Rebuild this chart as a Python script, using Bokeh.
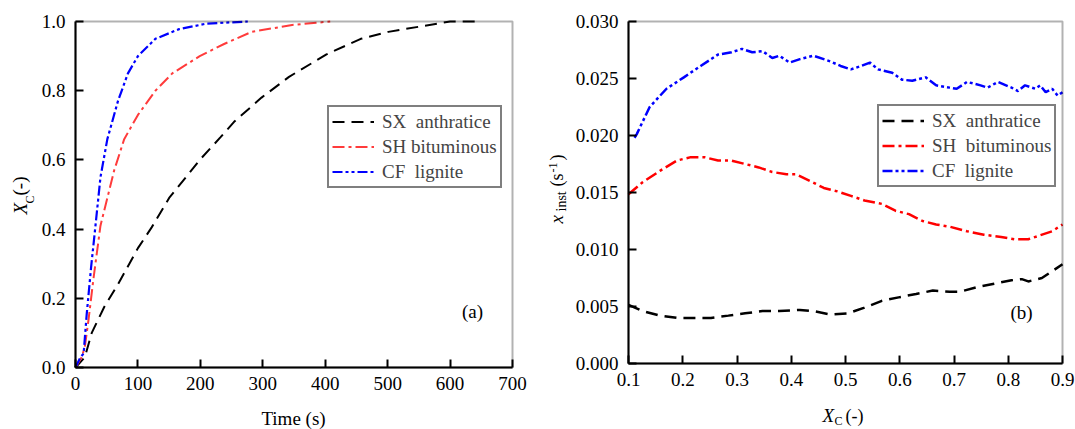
import math
from bokeh.plotting import figure
from bokeh.layouts import row
from bokeh.models import Range1d, FixedTicker, NumeralTickFormatter, Label, BoxAnnotation
from bokeh.embed import file_html
from bokeh.resources import INLINE

# ---- panel (a): carbon conversion vs time ----
sx_time = [0, 10, 15, 26, 46, 68, 100, 122, 150, 177, 199, 232, 254, 298, 342, 402, 457, 501, 567, 600, 640]
sx_xc = [0.0, 0.02, 0.03, 0.10, 0.175, 0.24, 0.345, 0.405, 0.49, 0.55, 0.60, 0.665, 0.71, 0.78, 0.84, 0.905, 0.95, 0.97, 0.99, 1.0, 1.0]

sh_time = [0, 10, 15, 21, 29, 40, 51, 62, 78, 100, 128, 155, 199, 238, 282, 347, 408]
sh_xc = [0.0, 0.03, 0.06, 0.14, 0.26, 0.41, 0.49, 0.57, 0.66, 0.73, 0.80, 0.85, 0.90, 0.935, 0.97, 0.99, 1.0]

cf_time = [0, 8, 13, 18, 25, 32, 40, 51, 68, 84, 100, 128, 166, 210, 276]
cf_xc = [0.0, 0.03, 0.04, 0.155, 0.29, 0.41, 0.55, 0.66, 0.77, 0.85, 0.90, 0.95, 0.978, 0.994, 1.0]

# ---- panel (b): instantaneous rate vs conversion ----
sx_b_xc = [0.100, 0.126, 0.158, 0.189, 0.221, 0.252, 0.284, 0.315, 0.347, 0.378, 0.416, 0.441, 0.472, 0.504, 0.535,
           0.567, 0.598, 0.630, 0.661, 0.692, 0.711, 0.743, 0.774, 0.806, 0.825, 0.837, 0.862, 0.881, 0.900]
sx_b_rate = [0.00515, 0.0046, 0.0042, 0.0040, 0.0040, 0.0040, 0.0042, 0.0044, 0.0046, 0.0046, 0.0047, 0.0046, 0.0043,
             0.0044, 0.0049, 0.0055, 0.0058, 0.0061, 0.0064, 0.0063, 0.0063, 0.0067, 0.0070, 0.0073, 0.0074, 0.0072,
             0.0075, 0.0081, 0.0087]

sh_b_xc = [0.100, 0.126, 0.158, 0.189, 0.215, 0.240, 0.265, 0.290, 0.315, 0.340, 0.365, 0.391, 0.409, 0.435, 0.460,
           0.485, 0.510, 0.535, 0.567, 0.592, 0.617, 0.642, 0.667, 0.692, 0.724, 0.755, 0.787, 0.812, 0.837, 0.856,
           0.881, 0.900]
sh_b_rate = [0.01485, 0.0159, 0.0169, 0.0178, 0.0181, 0.0181, 0.0178, 0.0178, 0.0175, 0.0172, 0.0168, 0.0166, 0.0166,
             0.0160, 0.0154, 0.0151, 0.0147, 0.0143, 0.0140, 0.0134, 0.0131, 0.0125, 0.0122, 0.0120, 0.0116, 0.0113,
             0.0111, 0.0109, 0.0109, 0.0112, 0.0116, 0.0122]

cf_b_xc = [0.111, 0.115, 0.139, 0.170, 0.202, 0.233, 0.265, 0.290, 0.309, 0.328, 0.347, 0.365, 0.378, 0.397, 0.416,
           0.441, 0.472, 0.491, 0.510, 0.529, 0.545, 0.560, 0.586, 0.604, 0.623, 0.648, 0.667, 0.692, 0.705, 0.724,
           0.749, 0.762, 0.781, 0.806, 0.818, 0.831, 0.850, 0.859, 0.869, 0.881, 0.891, 0.900]
cf_b_rate = [0.0198, 0.0201, 0.0225, 0.0241, 0.0251, 0.0261, 0.0271, 0.0273, 0.0276, 0.0273, 0.0274, 0.0268, 0.0270,
             0.0264, 0.0267, 0.0270, 0.0265, 0.0261, 0.0258, 0.0261, 0.0264, 0.0258, 0.0255, 0.0249, 0.0248, 0.0251,
             0.0244, 0.0242, 0.0241, 0.0247, 0.0244, 0.0242, 0.0247, 0.0242, 0.0239, 0.0244, 0.0241, 0.0244, 0.0238,
             0.0241, 0.0235, 0.0238]

series_names = ["SX  anthratice", "SH bituminous", "CF  lignite"]
series_names_b = ["SX  anthratice", "SH  bituminous", "CF  lignite"]

a_xticks = [0, 100, 200, 300, 400, 500, 600, 700]
a_yticks = [0.0, 0.2, 0.4, 0.6, 0.8, 1.0]
b_xticks = [0.1, 0.2, 0.3, 0.4, 0.5, 0.6, 0.7, 0.8, 0.9]
b_yticks = [0.000, 0.005, 0.010, 0.015, 0.020, 0.025, 0.030]

FONT = "Liberation Serif"
DASH_BLACK = "12 7"
DASH_RED = "12 4 3 4"
DASH_BLUE = "10 3 3 3 3 3"
H = 429


def make_panel(width, box_px, xticks, yticks, xfmt, yfmt):
    """Figure whose frame fills the canvas; the plotting box sits at box_px
    (left, right, top, bottom in canvas pixels) and the axes are pinned to it."""
    left, right, top, bottom = box_px
    x0, x1 = xticks[0], xticks[-1]
    y0, y1 = yticks[0], yticks[-1]
    kx = (x1 - x0) / (right - left)
    ky = (y1 - y0) / (bottom - top)
    p = figure(width=width, height=H, output_backend="svg", toolbar_location=None,
               x_range=Range1d(x0 - left * kx, x1 + (width - right) * kx),
               y_range=Range1d(y0 - (H - bottom) * ky, y1 + top * ky),
               min_border=0)
    p.xaxis.fixed_location = y0
    p.yaxis.fixed_location = x0
    p.xaxis.bounds = (x0, x1)
    p.yaxis.bounds = (y0, y1)
    p.xaxis.ticker = FixedTicker(ticks=xticks)
    p.yaxis.ticker = FixedTicker(ticks=yticks)
    p.xaxis.formatter = NumeralTickFormatter(format=xfmt)
    p.yaxis.formatter = NumeralTickFormatter(format=yfmt)
    for ax in (p.xaxis, p.yaxis):
        ax.axis_line_width = 2
        ax.axis_line_color = "black"
        ax.major_tick_in = 8
        ax.major_tick_out = 0
        ax.major_tick_line_width = 2
        ax.major_tick_line_color = "black"
        ax.minor_tick_line_color = None
        ax.major_label_text_font = FONT
        ax.major_label_text_font_size = "19px"
        ax.major_label_text_color = "black"
    p.xaxis.major_label_standoff = 9
    p.yaxis.major_label_standoff = 10
    p.xgrid.visible = False
    p.ygrid.visible = False
    p.outline_line_color = None
    p.add_layout(BoxAnnotation(left=x0, right=x1, bottom=y0, top=y1, fill_alpha=0,
                               line_color="black", line_width=2))
    return p


def style_legend(p, loc):
    lg = p.legend[0]
    lg.location = loc
    lg.border_line_color = "black"
    lg.border_line_width = 2
    lg.background_fill_alpha = 1
    lg.label_text_font = FONT
    lg.label_text_font_size = "19px"
    lg.glyph_width = 42
    lg.glyph_height = 23
    lg.label_height = 23
    lg.spacing = 2
    lg.padding = 3
    lg.label_standoff = 8
    lg.margin = 0


def piece(p, cx, cy, text, size="18px", italic=False, vertical=False, align="left"):
    # cx, cy: canvas pixel position (from top-left of this panel)
    p.add_layout(Label(x=cx, y=H - cy, x_units="screen", y_units="screen", text=text,
                       text_font=FONT, text_font_size=size,
                       text_font_style="italic" if italic else "normal",
                       text_align=align, text_baseline="middle",
                       angle=math.pi / 2 if vertical else 0.0,
                       text_color="black"))


# ---------- panel (a) ----------
pa = make_panel(540, (75, 512, 21, 367), a_xticks, a_yticks, "0", "0.0")
pa.line(sx_time, sx_xc, line_color="black", line_width=2, line_dash=DASH_BLACK, legend_label=series_names[0])
pa.line(sh_time, sh_xc, line_color="#ff3b3b", line_width=2, line_dash=DASH_RED, legend_label=series_names[1])
pa.line(cf_time, cf_xc, line_color="#0000ff", line_width=2.2, line_dash=DASH_BLUE, legend_label=series_names[2])
style_legend(pa, (327, H - 188))

piece(pa, 20, 214, "X", size="19px", italic=True, vertical=True)
piece(pa, 29, 203, "C", size="12px", vertical=True)
piece(pa, 19, 195, "(-)", size="19px", vertical=True)
piece(pa, 293, 418, "Time (s)", size="19px", align="center")
piece(pa, 472, 311, "(a)", size="19px", align="center")

# ---------- panel (b) ----------
pb = make_panel(535, (88, 522, 21, 363), b_xticks, b_yticks, "0.0", "0.000")
pb.line(sx_b_xc, sx_b_rate, line_color="black", line_width=2.5, line_dash=DASH_BLACK, legend_label=series_names_b[0])
pb.line(sh_b_xc, sh_b_rate, line_color="#ff0000", line_width=2.5, line_dash=DASH_RED, legend_label=series_names_b[1])
pb.line(cf_b_xc, cf_b_rate, line_color="#0000ff", line_width=2.5, line_dash=DASH_BLUE, legend_label=series_names_b[2])
style_legend(pb, (337, H - 187))

piece(pb, 16, 223, "x", size="19px", italic=True, vertical=True)
piece(pb, 21, 211, "inst", size="14px", vertical=True)
piece(pb, 16, 186, "(s", size="18px", vertical=True)
piece(pb, 12, 172, "-1", size="12px", vertical=True)
piece(pb, 16, 160, ")", size="18px", vertical=True)
piece(pb, 282, 415, "X", size="19px", italic=True)
piece(pb, 294, 420, "C", size="12px")
piece(pb, 305, 415, "(-)", size="18px")
piece(pb, 481, 312, "(b)", size="19px", align="center")

layout = row(pa, pb)
open("out.html", "w").write(file_html(layout, INLINE))
